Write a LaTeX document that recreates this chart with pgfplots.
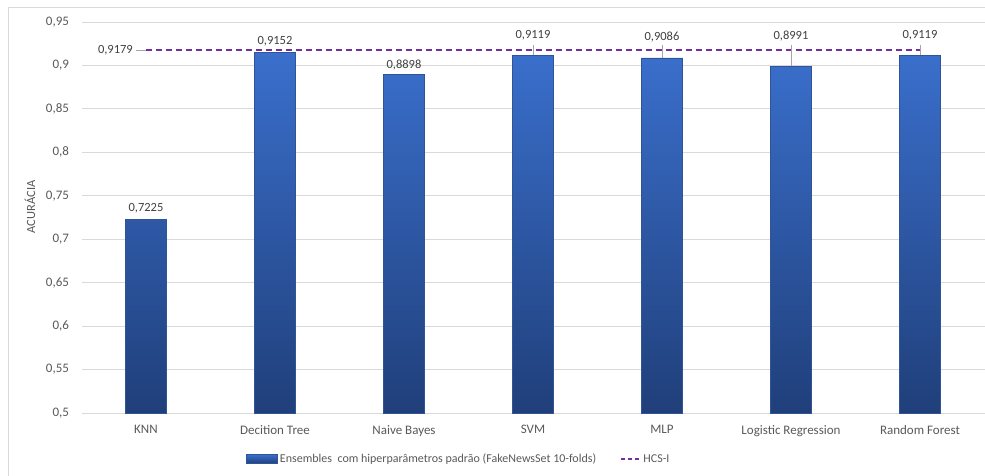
\documentclass[border=0pt]{standalone}
\usepackage{pgfplots}
\usepackage{pgfplotstable}
\pgfplotsset{compat=1.18}
\usepackage{fontspec}
\setmainfont{Carlito}
\definecolor{gridc}{HTML}{D9D9D9}
\definecolor{bartop}{HTML}{3A6FCC}
\definecolor{barbot}{HTML}{203F7A}
\definecolor{bardraw}{HTML}{2F5597}
\definecolor{hcs}{HTML}{7030A0}
\definecolor{tickc}{HTML}{595959}
\definecolor{labc}{HTML}{404040}
\pgfplotstableread{
x y err off
0 0.7225 0 11.5
1 0.9152 0 11
2 0.8898 0 9
3 0.9119 0.0116 20
4 0.9086 0.0149 21
5 0.8991 0.0244 30
6 0.9119 0.0116 20
}\bars
\pgfplotstableread{
x y
0 0.9179
1 0.9179
2 0.9179
3 0.9179
4 0.9179
5 0.9179
6 0.9179
}\hcsline
\begin{document}
\begin{tikzpicture}[font=\fontsize{12.5}{14}\selectfont]
\path[use as bounding box] (0,0) rectangle (985pt,476pt);
\draw[gridc, line width=0.8pt] (8pt,-5pt) -- (8pt,469pt) -- (995pt,469pt);
\begin{axis}[
  at={(81.5pt,63pt)}, anchor=south west,
  scale only axis, width=903pt, height=391pt,
  xmin=-0.5, xmax=6.5, ymin=0.5, ymax=0.95,
  xtick={0,...,6},
  xticklabels={KNN, Decition Tree, Naive Bayes, SVM, MLP, Logistic Regression, Random Forest},
  ytick={0.5,0.55,...,0.951},
  axis x line*=bottom, axis y line*=left,
  x axis line style={draw=gridc, line width=0.8pt},
  y axis line style={draw=none},
  major tick length=0pt,
  ymajorgrids, grid style={gridc, line width=0.8pt},
  tick label style={font=\fontsize{13}{15}\selectfont, text=tickc},
  yticklabel style={/pgf/number format/use comma, /pgf/number format/fixed, /pgf/number format/precision=2, /pgf/number format/assume math mode=true, xshift=-9pt},
  xticklabel style={yshift=-9pt},
  ylabel={ACURÁCIA},
  ylabel style={font=\fontsize{12.5}{14}\selectfont, text=tickc, at={(rel axis cs:-0.057,0.527)}, anchor=center},
  legend style={at={(0.418,-0.1176)}, anchor=center, draw=none, fill=none,
    font=\fontsize{12}{14}\selectfont, text=tickc, legend columns=2,
    /tikz/every even column/.append style={column sep=22pt}},
  clip=false,
]
\addplot[ybar, bar width=41pt, draw=bardraw, line width=0.6pt, top color=bartop, bottom color=barbot,
  legend image code/.code={\fill[barbot!85!bartop, draw=bardraw] (0pt,-4.5pt) rectangle (31pt,4.5pt);}]
  table[x=x,y=y]{\bars};
\addlegendentry{Ensembles\ \ com hiperparâmetros padrão (FakeNewsSet 10-folds)}
\addplot[hcs, line width=1.3pt, dash pattern=on 6pt off 4pt, mark=none,
  legend image code/.code={\draw[hcs, line width=1.3pt, dash pattern=on 4pt off 3pt] (0pt,0pt) -- (20pt,0pt);}]
  table[x=x,y=y]{\hcsline};
\addlegendentry{HCS-I}
\addplot[forget plot, draw=none, mark=none,
  error bars/.cd, y dir=plus, y explicit, error mark=none,
  error bar style={draw=gray!70, line width=0.6pt}]
  table[x=x, y=y, y error=err]{\bars};
\addplot[forget plot, draw=none, mark=none,
  visualization depends on={\thisrow{off} \as \off},
  nodes near coords,
  nodes near coords style={/pgf/number format/use comma, /pgf/number format/fixed, /pgf/number format/precision=4, /pgf/number format/fixed zerofill, /pgf/number format/assume math mode=true},
  every node near coord/.append style={anchor=center, yshift=\off pt, text=labc, font=\fontsize{12.5}{14}\selectfont}]
  table[x=x, y=y]{\bars};
\draw[gray!70, line width=0.6pt] (axis cs:0,0.9179) -- ++(-10pt,0pt);
\node[anchor=east, text=labc, inner sep=1pt] at ([xshift=-12pt]axis cs:0,0.9179) {0,9179};
\end{axis}
\end{tikzpicture}
\end{document}
